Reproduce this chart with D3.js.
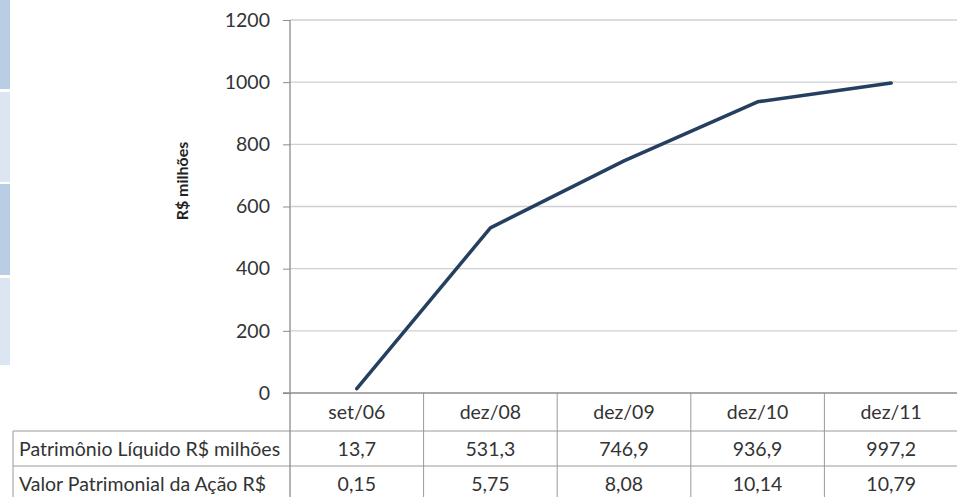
<!DOCTYPE html>
<html>
<head>
<meta charset="utf-8">
<script src="https://cdn.jsdelivr.net/npm/d3@7/dist/d3.min.js"></script>
<style>
  body { margin: 0; background: #fff; }
  svg { display: block; font-family: Lato, "Open Sans", sans-serif; }
</style>
</head>
<body>
<div class="chart"></div>
<script>
// categories + the two table rows
var periods = ["set/06", "dez/08", "dez/09", "dez/10", "dez/11"];
var patrimonio = [13.7, 531.3, 746.9, 936.9, 997.2];
var patrimonioLabels = ["13,7", "531,3", "746,9", "936,9", "997,2"];
var valorAcao = ["0,15", "5,75", "8,08", "10,14", "10,79"];
var rowNames = ["Patrimônio Líquido R$ milhões", "Valor Patrimonial da Ação R$"];
var yTicks = [0, 200, 400, 600, 800, 1000, 1200];

var width = 957, height = 497;
var plotLeft = 290, plotRight = 958, plotTop = 20, axisY = 393;
var rowH = [38, 35, 35];
var fontSize = "19.5px";

var svg = d3.select("div.chart").append("svg")
  .attr("width", width)
  .attr("height", height);

// blue strips on the far left (cut off slide tabs)
var strips = [[0, 89, "#b9cde5"], [92, 182, "#dce6f2"], [184, 275, "#b9cde5"], [278, 365, "#dce6f2"]];
svg.append("g").selectAll("rect")
  .data(strips)
  .enter().append("rect")
  .attr("x", 0)
  .attr("y", d => d[0])
  .attr("width", 10)
  .attr("height", d => d[1] - d[0])
  .attr("fill", d => d[2]);

var x = d3.scaleBand().domain(periods).range([plotLeft, plotRight]);
var y = d3.scaleLinear().domain([0, 1200]).range([axisY, plotTop]);

// gridlines
svg.append("g")
  .selectAll("line")
  .data(yTicks.filter(d => d > 0))
  .enter().append("line")
  .attr("x1", plotLeft).attr("x2", plotRight)
  .attr("y1", d => y(d)).attr("y2", d => y(d))
  .style("stroke", "#d0d0d0")
  .style("stroke-width", 1.3);

// y axis
var yAxis = svg.append("g")
  .attr("transform", "translate(" + plotLeft + ",0)")
  .call(d3.axisLeft(y).tickValues(yTicks).tickSize(7).tickPadding(13).tickFormat(d3.format("d")));
yAxis.select(".domain").remove();
yAxis.selectAll(".tick line").style("stroke", "#8c8c8c");
yAxis.selectAll(".tick text")
  .style("font-family", "Lato, sans-serif")
  .style("font-size", fontSize)
  .style("fill", "#333");

// y axis title
svg.append("text")
  .attr("transform", "translate(188,181) rotate(-90)")
  .attr("text-anchor", "middle")
  .style("font-size", "16px")
  .style("font-weight", "bold")
  .style("fill", "#222")
  .text("R$ milhões");

// table lines
var tableBottom = axisY + rowH[0] + rowH[1] + rowH[2];
var row1 = axisY + rowH[0], row2 = row1 + rowH[1];
var grid = svg.append("g").style("stroke", "#9a9a9a").style("stroke-width", 1);
grid.selectAll("line.v")
  .data(periods)
  .enter().append("line")
  .attr("x1", d => x(d) + x.bandwidth()).attr("x2", d => x(d) + x.bandwidth())
  .attr("y1", axisY).attr("y2", tableBottom);
grid.append("line").attr("x1", 13).attr("x2", 13).attr("y1", row1).attr("y2", tableBottom);
grid.append("line").attr("x1", 13).attr("x2", plotRight).attr("y1", row1).attr("y2", row1);
grid.append("line").attr("x1", 13).attr("x2", plotRight).attr("y1", row2).attr("y2", row2);

// axis lines
svg.append("line")
  .attr("x1", plotLeft).attr("x2", plotLeft)
  .attr("y1", plotTop).attr("y2", tableBottom)
  .style("stroke", "#8c8c8c").style("stroke-width", 1.3);
svg.append("line")
  .attr("x1", plotLeft - 7).attr("x2", plotRight)
  .attr("y1", axisY).attr("y2", axisY)
  .style("stroke", "#8c8c8c").style("stroke-width", 1.3);

// table text
function cells(vals, yMid) {
  svg.append("g").selectAll("text")
    .data(vals)
    .enter().append("text")
    .attr("x", (d, i) => x(periods[i]) + x.bandwidth() / 2)
    .attr("y", yMid + 7)
    .attr("text-anchor", "middle")
    .style("font-size", fontSize)
    .style("fill", "#333")
    .text(d => d);
}
cells(periods, axisY + rowH[0] / 2);
cells(patrimonioLabels, row1 + rowH[1] / 2);
cells(valorAcao, row2 + rowH[2] / 2);

svg.append("g").selectAll("text")
  .data(rowNames)
  .enter().append("text")
  .attr("x", 19)
  .attr("y", (d, i) => (i == 0 ? row1 + rowH[1] / 2 : row2 + rowH[2] / 2) + 7)
  .style("font-size", fontSize)
  .style("fill", "#333")
  .text(d => d);

// the line
var line = d3.line()
  .x((d, i) => x(periods[i]) + x.bandwidth() / 2)
  .y(d => y(d));
svg.append("path")
  .datum(patrimonio)
  .attr("d", line)
  .attr("fill", "none")
  .attr("stroke", "#243f60")
  .attr("stroke-width", 3.5)
  .attr("stroke-linejoin", "round")
  .attr("stroke-linecap", "round");
</script>
</body>
</html>
